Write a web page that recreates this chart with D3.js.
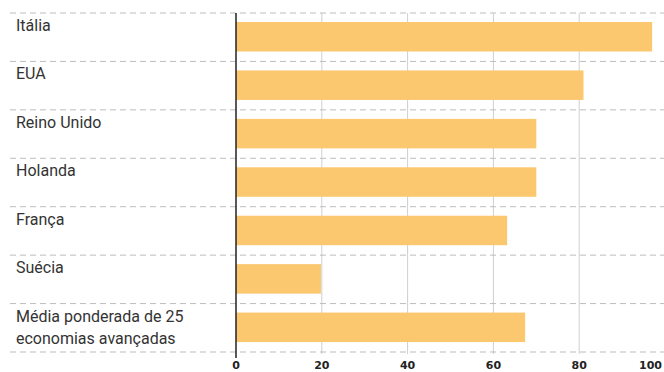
<!DOCTYPE html>
<html>
<head>
<meta charset="utf-8">
<script src="https://cdn.jsdelivr.net/npm/d3@7"></script>
<style>
  body { margin: 0; background: #fff; }
  svg { display: block; }
</style>
</head>
<body>
<div id="chart"></div>
<script>
// data
const countries = ["Itália", "EUA", "Reino Unido", "Holanda", "França", "Suécia", "Média ponderada de 25\neconomias avançadas"];
const values = [97, 81, 70, 70, 63.2, 19.8, 67.4];
const ticks = [0, 20, 40, 60, 80, 100];

const width = 664;
const height = 372;
const marginLeft = 236;
const plotRight = 665;
const plotTop = 13;
const plotBottom = 352;

const svg = d3.select("#chart")
  .append("svg")
  .attr("width", width)
  .attr("height", height);

const x = d3.scaleLinear().domain([0, 100]).range([marginLeft, plotRight]);
const y = d3.scaleBand().domain(countries).range([plotTop, plotBottom]).padding(0);

// vertical grid lines
svg.selectAll(".grid")
  .data(ticks.filter(t => t > 0 && t < 100))
  .enter()
  .append("line")
  .attr("x1", d => x(d)).attr("x2", d => x(d))
  .attr("y1", plotTop).attr("y2", plotBottom + 2)
  .attr("stroke", "#cfcfcf")
  .attr("stroke-width", 1);

// dashed row separators
const seps = countries.map(c => y(c)).concat([plotBottom]);
svg.selectAll(".sep")
  .data(seps)
  .enter()
  .append("line")
  .attr("x1", 10).attr("x2", width)
  .attr("y1", d => d).attr("y2", d => d)
  .attr("stroke", "#bdbdbd")
  .attr("stroke-width", 1)
  .attr("stroke-dasharray", "6,4");

// bars
svg.selectAll(".bar")
  .data(countries)
  .enter()
  .append("rect")
  .attr("x", x(0))
  .attr("y", d => y(d) + 9)
  .attr("width", (d, i) => x(values[i]) - x(0))
  .attr("height", 29.5)
  .attr("fill", "#fbc86f");

// axis line at zero
svg.append("line")
  .attr("x1", x(0)).attr("x2", x(0))
  .attr("y1", plotTop).attr("y2", plotBottom + 6)
  .attr("stroke", "#222")
  .attr("stroke-width", 1.5);

// country labels (some wrap on two lines)
const labels = svg.selectAll(".label")
  .data(countries)
  .enter()
  .append("text")
  .attr("x", 16)
  .attr("y", d => y(d) + 18)
  .style("font-family", "Roboto, 'Liberation Sans', sans-serif")
  .style("font-size", "16px")
  .style("fill", "#333");

labels.selectAll("tspan")
  .data(d => d.split("\n"))
  .enter()
  .append("tspan")
  .attr("x", 16)
  .attr("dy", (d, i) => i === 0 ? 0 : 22)
  .text(d => d);

// tick labels
svg.selectAll(".tick")
  .data(ticks)
  .enter()
  .append("text")
  .attr("x", d => d === 100 ? width - 2 : x(d))
  .attr("y", 369)
  .attr("text-anchor", d => d === 100 ? "end" : "middle")
  .style("font-family", "'DejaVu Sans', sans-serif")
  .style("font-weight", "bold")
  .style("font-size", "11px")
  .style("fill", "#222")
  .text(d => d);
</script>
</body>
</html>
